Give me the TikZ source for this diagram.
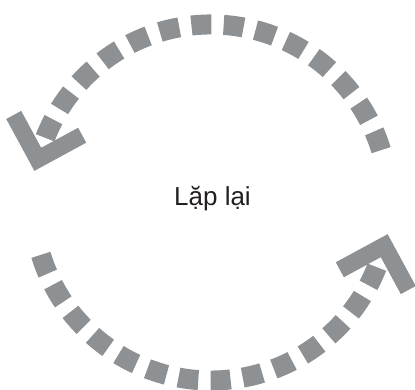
\documentclass[tikz,border=0pt]{standalone}
\usepackage{fontspec}
\setmainfont{Liberation Sans}
\usetikzlibrary{calc}
\definecolor{arcgray}{RGB}{141,145,148}
\definecolor{textdark}{RGB}{35,31,32}
\tikzset{
  dashline/.style={draw=arcgray, line width=20pt, dash pattern=on 20pt off 12.3pt},
  chevron/.style={draw=arcgray, line width=17pt, miter limit=4, line join=miter},
  labeltext/.style={font=\fontsize{26}{30}\selectfont, text=textdark, inner sep=0pt}
}
\begin{document}
\begin{tikzpicture}[x=1pt,y=1pt]
\useasboundingbox (0,0) rectangle (415,390);
\coordinate (c) at (211,187.5);
% top arc, ending in the left arrowhead
\draw[dashline] ($(c)+(17.1:178)$) arc[start angle=17.1, end angle=159.5, radius=178];
\coordinate (tipA) at ($(c)+(166:178.5)$);
\draw[chevron] ($(tipA)+(118.5:50.5)$) -- (tipA) -- ($(tipA)+(28.5:50.5)$);
% bottom arc, ending in the right arrowhead
\draw[dashline] ($(c)+(197.1:178)$) arc[start angle=197.1, end angle=339.5, radius=178];
\coordinate (tipB) at ($(c)+(346:178.5)$);
\draw[chevron] ($(tipB)+(298.5:50.5)$) -- (tipB) -- ($(tipB)+(208.5:50.5)$);
\node[labeltext, anchor=base] (label) at (212.5,184) {Lặp lại};
\end{tikzpicture}
\end{document}
